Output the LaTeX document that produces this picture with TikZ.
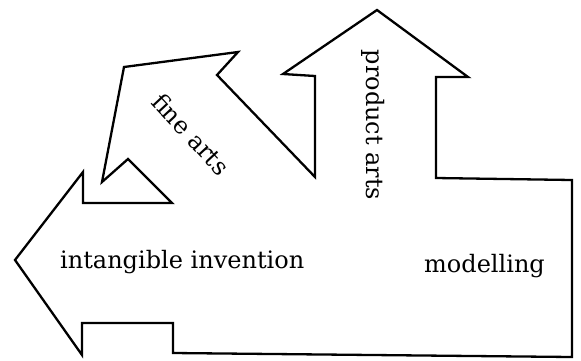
\documentclass[tikz,border=0pt]{standalone}
\usepackage{fontspec}
\setmainfont{DejaVu Serif}
\begin{document}
\begin{tikzpicture}[x=1pt,y=-1pt,
  outline/.style={draw=black,line width=2.3pt,line join=miter},
  lbl/.style={font=\fontsize{24}{28}\selectfont,inner sep=0pt}]
\useasboundingbox (0,0) rectangle (581,360);
\draw[outline] (15,260) -- (83,172) -- (83,203) -- (172,203) -- (128,159)
  -- (102,182) -- (124,67) -- (238,52) -- (217,75) -- (315,177)
  -- (315,76) -- (283,74) -- (377,10) -- (468,77) -- (436,77)
  -- (436,178) -- (572,180) -- (572,357) -- (173,353) -- (173,323)
  -- (82,323) -- (82,355) -- cycle;
\node[lbl,anchor=base west] (inv) at (60,268) {intangible invention};
\node[lbl,anchor=base west] (mod) at (424,272) {modelling};
\node[lbl,rotate=-90] (prod) at (373,125) {product arts};
\node[lbl,rotate=-47] (fine) at (191,134) {fine arts};
\end{tikzpicture}
\end{document}
